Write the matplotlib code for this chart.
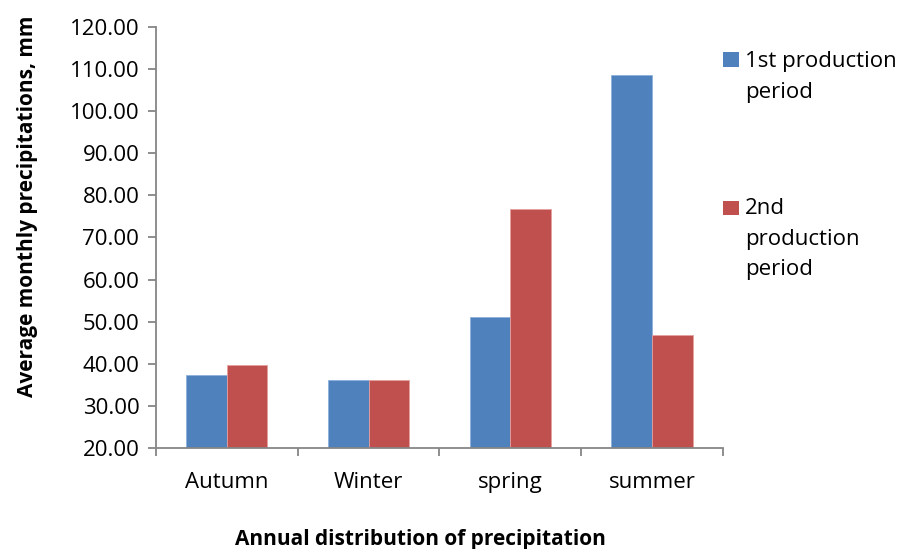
import numpy as np
import matplotlib.pyplot as plt
from matplotlib.patches import Rectangle

plt.rcParams['font.family'] = ['Open Sans', 'DejaVu Sans']

# Données
seasons = ['Autumn', 'Winter', 'spring', 'summer']
period1 = [37.3, 36.2, 51.0, 108.5]
period2 = [39.7, 36.2, 76.7, 46.8]
labels = ['1st production\nperiod', '2nd\nproduction\nperiod']
colors = ['#4f81bd', '#c0504d']
yticks = np.arange(20, 121, 10)

fig = plt.figure(figsize=(9.04, 5.49), dpi=100)
ax = fig.add_axes([0.1726, 0.184, 0.627, 0.767])

x = np.arange(len(seasons))
w = 0.286
ax.bar(x - w / 2, period1, w, bottom=0, color=colors[0], edgecolor='#8eb0dc', linewidth=0.6)
ax.bar(x + w / 2, period2, w, bottom=0, color=colors[1], edgecolor='#e4a09e', linewidth=0.6)

ax.set_ylim(20, 120)
ax.set_xlim(-0.5, len(seasons) - 0.5)
ax.set_yticks(yticks)
ax.set_yticklabels(['%.2f' % v for v in yticks], fontsize=16)
ax.set_xticks(x)
ax.set_xticklabels(seasons, fontsize=16)
ax.tick_params(axis='x', length=0, pad=17)
ax.set_xticks(np.arange(-0.5, len(seasons)), minor=True)
ax.tick_params(axis='x', which='minor', length=6, color='#868686', width=1.3)
ax.tick_params(axis='y', length=6, color='#868686', width=1.3, pad=6)

for s in ['top', 'right']:
    ax.spines[s].set_visible(False)
for s in ['left', 'bottom']:
    ax.spines[s].set_color('#868686')
    ax.spines[s].set_linewidth(1.3)

fig.text(0.465, 0.017, 'Annual distribution of precipitation', ha='center', va='center',
         fontsize=15, fontweight='bold')
fig.text(0.03, 0.624, 'Average monthly precipitations, mm', rotation=90, ha='center',
         va='center', fontsize=15, fontweight='bold')

# Légende
sq_y = [0.891, 0.621]
txt_y = [0.907, 0.639]
for c, lab, sy, ty in zip(colors, labels, sq_y, txt_y):
    fig.patches.append(Rectangle((0.8, sy - 0.0135), 0.0177, 0.027, transform=fig.transFigure,
                                 facecolor=c, edgecolor='none'))
    fig.text(0.824, ty, lab, ha='left', va='top', fontsize=16, linespacing=1.6)

fig.savefig('out.png', dpi=100)
